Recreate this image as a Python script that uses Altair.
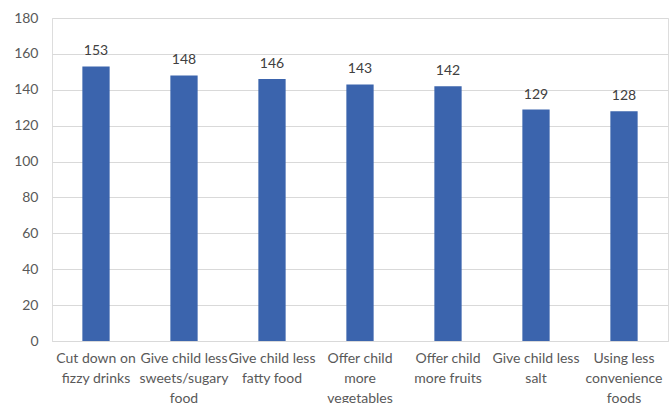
import altair as alt
import pandas as pd

categories = [
    "Cut down on|fizzy drinks",
    "Give child less|sweets/sugary|food",
    "Give child less|fatty food",
    "Offer child|more|vegetables",
    "Offer child|more fruits",
    "Give child less|salt",
    "Using less|convenience|foods",
]
values = [153, 148, 146, 143, 142, 129, 128]
y_ticks = [0, 20, 40, 60, 80, 100, 120, 140, 160, 180]

df = pd.DataFrame({"cat": categories, "val": values})

FONT = "Lato"
x = alt.X(
    "cat:N",
    sort=categories,
    title=None,
    scale=alt.Scale(paddingInner=0.69, paddingOuter=0.345),
    axis=alt.Axis(
        labelExpr="split(datum.label, '|')",
        labelAngle=0,
        labelFontSize=14,
        labelColor="#595959",
        labelFont=FONT,
        labelPadding=10,
        labelLineHeight=20,
        labelBaseline="top",
        ticks=False,
        domainColor="#d9d9d9",
        grid=False,
        labelLimit=200,
    ),
)
y = alt.Y(
    "val:Q",
    title=None,
    scale=alt.Scale(domain=[0, 180], nice=False),
    axis=alt.Axis(
        values=y_ticks,
        labelFontSize=14,
        labelColor="#595959",
        labelFont=FONT,
        labelPadding=14,
        ticks=False,
        domain=False,
        gridColor="#d9d9d9",
    ),
)

bars = alt.Chart(df).mark_bar(color="#3B64AD").encode(x=x, y=y)
labels = alt.Chart(df).mark_text(
    dy=-15, fontSize=14, color="#404040", font=FONT
).encode(x=x, y=y, text="val:Q")

chart = (
    (bars + labels)
    .properties(
        width=616,
        height=323,
        autosize=alt.AutoSizeParams(type="none"),
        padding={"left": 52, "top": 18, "right": 2, "bottom": 62},
    )
    .configure_view(stroke=None)
    .configure(background="white")
)

chart.save("out.html", embed_options={"renderer": "svg", "actions": False})
